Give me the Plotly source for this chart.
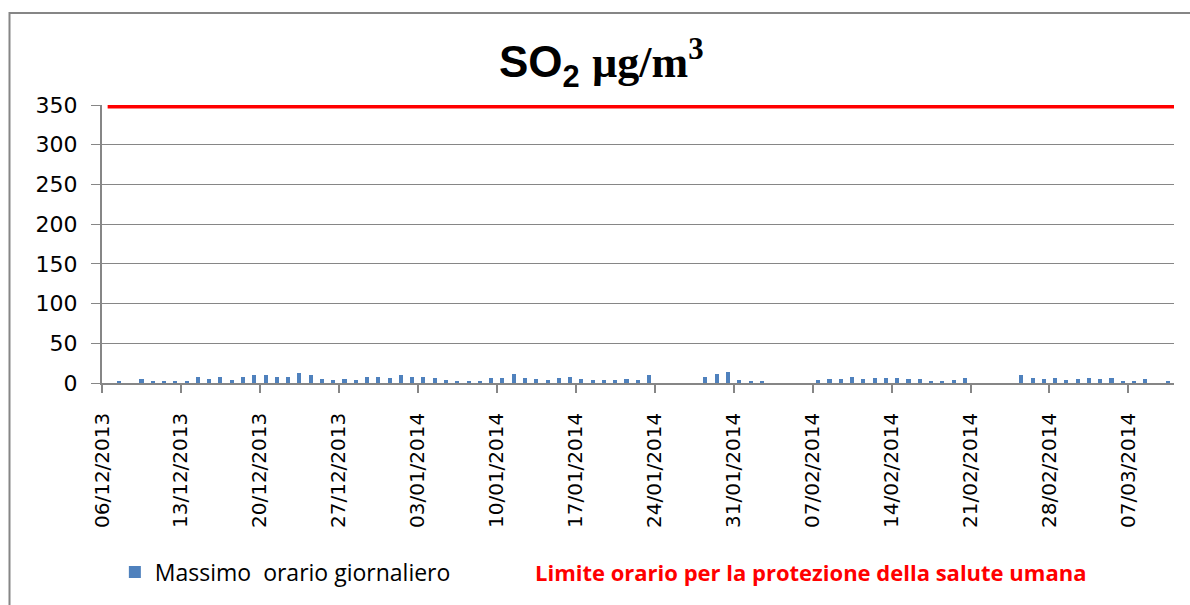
import plotly.graph_objects as go
import pandas as pd

# ---- data ----
dates = [
    "2013-12-07", "2013-12-09", "2013-12-10", "2013-12-11", "2013-12-12", "2013-12-13",
    "2013-12-14", "2013-12-15", "2013-12-16", "2013-12-17", "2013-12-18", "2013-12-19",
    "2013-12-20", "2013-12-21", "2013-12-22", "2013-12-23", "2013-12-24", "2013-12-25",
    "2013-12-26", "2013-12-27", "2013-12-28", "2013-12-29", "2013-12-30", "2013-12-31",
    "2014-01-01", "2014-01-02", "2014-01-03", "2014-01-04", "2014-01-05", "2014-01-06",
    "2014-01-07", "2014-01-08", "2014-01-09", "2014-01-10", "2014-01-11", "2014-01-12",
    "2014-01-13", "2014-01-14", "2014-01-15", "2014-01-16", "2014-01-17", "2014-01-18",
    "2014-01-19", "2014-01-20", "2014-01-21", "2014-01-22", "2014-01-23",
    "2014-01-28", "2014-01-29", "2014-01-30", "2014-01-31", "2014-02-01", "2014-02-02",
    "2014-02-07", "2014-02-08", "2014-02-09", "2014-02-10", "2014-02-11", "2014-02-12",
    "2014-02-13", "2014-02-14", "2014-02-15", "2014-02-16", "2014-02-17", "2014-02-18",
    "2014-02-19", "2014-02-20",
    "2014-02-25", "2014-02-26", "2014-02-27", "2014-02-28", "2014-03-01", "2014-03-02",
    "2014-03-03", "2014-03-04", "2014-03-05", "2014-03-06", "2014-03-07", "2014-03-08",
    "2014-03-10",
]
massimo = [
    1.5, 5, 1.5, 1.5, 1.5, 1.5,
    8, 5, 8, 4, 8, 10,
    10, 8, 8, 13, 10, 5,
    4, 5, 4, 8, 8, 6,
    10, 8, 8, 6, 4, 1.5,
    1.5, 1.5, 6, 6, 11, 6,
    5, 4, 6, 8, 5, 4,
    4, 4, 5, 4, 10,
    8, 11, 14, 4, 1.5, 1.5,
    4, 5, 5, 8, 5, 6,
    6, 6, 5, 5, 1.5, 1.5,
    4, 6,
    10, 6, 5, 6, 4, 5,
    6, 5, 6, 1.5, 1.5, 5,
    1.5,
]

limit_dates = [d.strftime("%Y-%m-%d") for d in pd.date_range("2013-12-06", "2014-03-11", freq="D")]
limit_value = 350
limite = [limit_value for _ in limit_dates]

tick_dates = ["2013-12-06", "2013-12-13", "2013-12-20", "2013-12-27", "2014-01-03",
              "2014-01-10", "2014-01-17", "2014-01-24", "2014-01-31", "2014-02-07",
              "2014-02-14", "2014-02-21", "2014-02-28", "2014-03-07"]
tick_labels = ["06/12/2013", "13/12/2013", "20/12/2013", "27/12/2013", "03/01/2014",
               "10/01/2014", "17/01/2014", "24/01/2014", "31/01/2014", "07/02/2014",
               "14/02/2014", "21/02/2014", "28/02/2014", "07/03/2014"]

bar_name = "Massimo  orario giornaliero"
line_name = "Limite orario per la protezione della salute umana"

DAY_MS = 86400000
GREY = "#868686"

fig = go.Figure()
fig.add_trace(go.Bar(
    x=dates, y=massimo, name=bar_name,
    marker=dict(color="#4F81BD", line=dict(width=0)),
    width=0.36 * DAY_MS,
    xperiod=DAY_MS, xperiodalignment="middle",
    showlegend=True,
))
# the limit line sits on the top edge of the plot area, where half of its
# stroke is clipped; a wider stroke leaves a ~3.5 px visible band below 350
fig.add_trace(go.Scatter(
    x=limit_dates, y=limite, name=line_name, mode="lines",
    line=dict(color="#FF0000", width=7),
    xperiod=DAY_MS, xperiodalignment="middle",
    showlegend=False,
))

fig.update_layout(
    width=1190, height=605,
    margin=dict(l=102, r=16, t=105, b=222),
    paper_bgcolor="white", plot_bgcolor="white",
    font=dict(family="DejaVu Sans", size=20, color="black"),
    bargap=0,
    legend=dict(
        orientation="h", x=0.012, y=-0.68, xanchor="left", yanchor="middle",
        font=dict(family="Open Sans", size=23, color="black"),
        bgcolor="rgba(0,0,0,0)",
    ),
    xaxis=dict(
        type="date",
        range=["2013-12-06", "2014-03-11 01:00"],
        tickvals=tick_dates, ticktext=tick_labels,
        tickangle=-90,
        tickfont=dict(family="DejaVu Sans", size=20, color="black"),
        showgrid=False, zeroline=False,
        showline=True, linecolor=GREY, linewidth=1.5,
        ticks="outside", ticklen=8, tickwidth=1.5, tickcolor=GREY,
        ticklabelstandoff=12,
    ),
    yaxis=dict(
        range=[0, 350], dtick=50, tick0=0,
        tickfont=dict(family="DejaVu Sans", size=22, color="black"),
        showgrid=True, gridcolor=GREY, gridwidth=1,
        zeroline=False,
        showline=True, linecolor=GREY, linewidth=2,
        ticks="outside", ticklen=9, tickwidth=1, tickcolor=GREY,
        ticklabelstandoff=9,
    ),
    annotations=[
        dict(
            text='<b>SO<sub>2</sub> <span style="font-family:Liberation Serif">µg/m<sup>3</sup></span></b>',
            xref="paper", yref="paper", x=0.4655, y=1.15,
            xanchor="center", yanchor="middle", showarrow=False,
            font=dict(family="Liberation Sans", size=44, color="black"),
        ),
        dict(
            text="<b>" + line_name + "</b>",
            xref="paper", yref="paper", x=(533 - 102) / 1072, y=-0.68,
            xanchor="left", yanchor="middle", showarrow=False,
            font=dict(family="Open Sans", size=22, color="#FF0000"),
        ),
    ],
    shapes=[
        dict(type="rect", xref="paper", yref="paper",
             x0=(9.5 - 102) / 1072, x1=1.05, y0=-0.9, y1=(383 - 13) / 278,
             line=dict(color=GREY, width=2), fillcolor="rgba(0,0,0,0)", layer="below"),
    ],
)

fig.write_html(
    "out.html",
    config={"displayModeBar": False},
    post_script="document.body.style.margin='0';document.body.style.overflow='hidden';",
)
